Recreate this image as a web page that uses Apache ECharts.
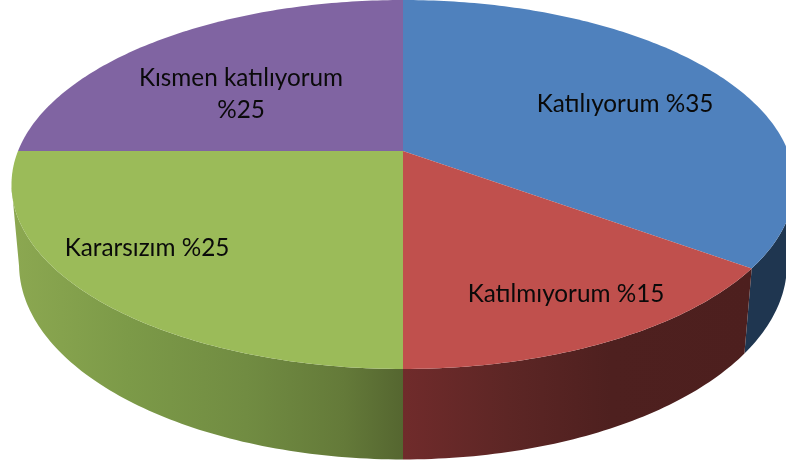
<!DOCTYPE html>
<html>
<head>
<meta charset="utf-8">
<style>html,body{margin:0;padding:0;background:#fff}#c{width:786px;height:465px}</style>
<script src="https://cdn.jsdelivr.net/npm/echarts@6/dist/echarts.min.js"></script>
</head>
<body>
<div id="c"></div>
<script>
// Data
const categories = ['Katılıyorum', 'Katılmıyorum', 'Kararsızım', 'Kısmen katılıyorum'];
const values = [35, 15, 25, 25];
const labelBreaks = [' ', ' ', ' ', '\n'];

// Styles
const topColors = ['#4f81bd', '#c0504d', '#9bbb59', '#8064a2'];
const wallStops = [
  [[0, '#1f3650'], [1, '#1f3650']],
  [[0, '#702b2b'], [0.3, '#5d2625'], [0.6, '#4e201f'], [1, '#4d1f1e']],
  [[0, '#8ca851'], [0.3, '#7c9a48'], [0.6, '#718c42'], [0.85, '#647a39'], [1, '#556630']],
  [[0, '#3f2f55'], [1, '#3f2f55']]
];
const wallRange = [[403, 786], [403, 750], [10, 403], [10, 403]];
const labelAnchors = [[625, 104], [566, 294], [147, 248], [241, 94]];

// Perspective disc geometry
const CX = 403, CY = 151, SX = 385, SY = 178.4, PERSP = 0.1816, DEPTH_Q = 0.019, DEPTH_H = 79.9;
const WALL_FROM = 0.28, WALL_TO = 0.72; // silhouette tangents of the disc wall
const total = values.reduce((a, b) => a + b, 0);

function project(frac, lower) {
  const t = frac * 2 * Math.PI, u = Math.sin(t), v = Math.cos(t);
  const d = 1 + PERSP * v + (lower ? DEPTH_Q : 0);
  return [CX + SX * u / d, CY + (-SY * v + (lower ? DEPTH_H : 0)) / d];
}
function arc(from, to, lower) {
  const n = Math.max(2, Math.ceil((to - from) * 400)), pts = [];
  for (let i = 0; i <= n; i++) pts.push(project(from + (to - from) * i / n, lower));
  return pts;
}
function span(idx) {
  let s = 0;
  for (let i = 0; i < idx; i++) s += values[i];
  return [s / total, (s + values[idx]) / total];
}

const seriesData = categories.map((name, i) => ({ name, value: values[i] }));

function renderWall(params) {
  const i = params.dataIndex, sp = span(i);
  const a = Math.max(sp[0], WALL_FROM), b = Math.min(sp[1], WALL_TO);
  if (b <= a) return null; // this slice's wall is hidden behind the top
  const pts = arc(a, b, false).concat(arc(a, b, true).reverse());
  const r = wallRange[i];
  return {
    type: 'polygon',
    shape: { points: pts },
    style: {
      fill: new echarts.graphic.LinearGradient(r[0], 0, r[1], 0,
        wallStops[i].map(s => ({ offset: s[0], color: s[1] })), true)
    }
  };
}
function renderTop(params) {
  const i = params.dataIndex, [a, b] = span(i);
  const pts = [[CX, CY]].concat(arc(a, b, false));
  return {
    type: 'group',
    children: [
      { type: 'polygon', shape: { points: pts }, style: { fill: topColors[i] } },
      {
        type: 'text', z2: 10,
        style: {
          x: labelAnchors[i][0], y: labelAnchors[i][1],
          text: categories[i] + labelBreaks[i] + '%' + values[i],
          align: 'center', verticalAlign: 'middle',
          font: '24.3px Lato', lineHeight: 32, fill: '#0a0a0a'
        }
      }
    ]
  };
}

const chart = echarts.init(document.getElementById('c'), null, { renderer: 'canvas' });
chart.setOption({
  animation: false,
  backgroundColor: '#ffffff',
  series: [
    { type: 'custom', coordinateSystem: 'none', silent: true, z: 1, renderItem: renderWall, data: seriesData },
    { type: 'custom', coordinateSystem: 'none', silent: true, z: 2, renderItem: renderTop, data: seriesData }
  ]
});
</script>
</body>
</html>
